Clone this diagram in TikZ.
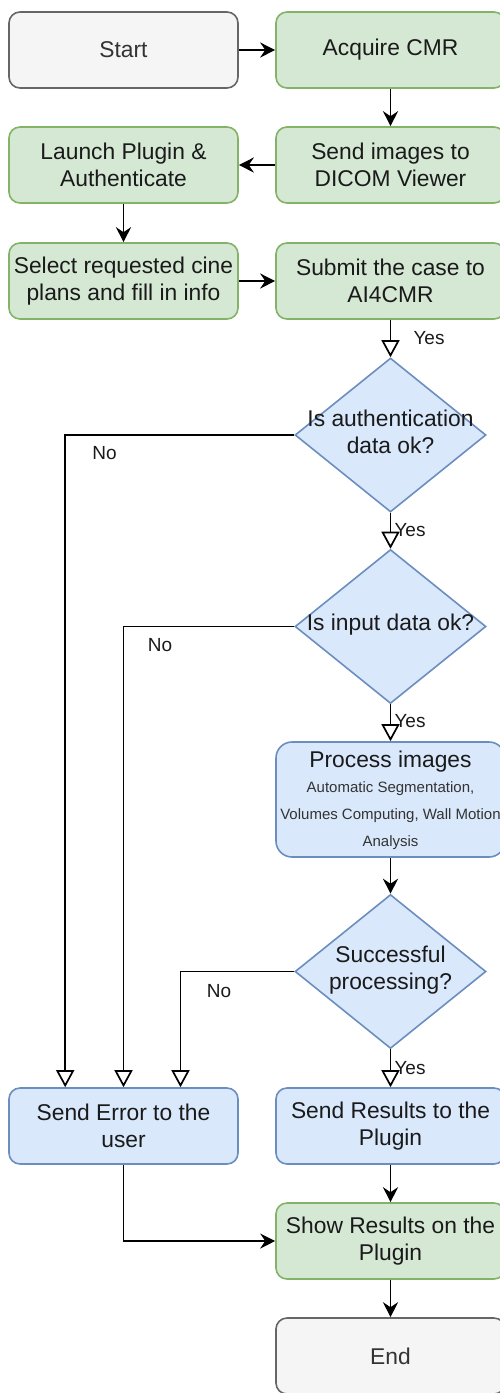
\documentclass[tikz,border=0pt]{standalone}
\usepackage{fontspec}
\setmainfont{Liberation Sans}
\usetikzlibrary{shapes.geometric,arrows.meta}
\definecolor{gfill}{HTML}{D5E8D4}
\definecolor{gdraw}{HTML}{82B366}
\definecolor{bfill}{HTML}{DAE8FC}
\definecolor{bdraw}{HTML}{6C8EBF}
\definecolor{sfill}{HTML}{F5F5F5}
\definecolor{sdraw}{HTML}{666666}
\definecolor{stext}{HTML}{333333}
\definecolor{mtext}{HTML}{1A1A1A}
\begin{document}
\begin{tikzpicture}[x=1pt,y=-1pt,
  base/.style={rectangle, rounded corners=11pt, minimum width=229pt, minimum height=76pt, inner sep=0pt, align=center, line width=1.6pt, text=mtext, font=\fontsize{22.8}{26.7}\selectfont},
  greenbox/.style={base, fill=gfill, draw=gdraw},
  bluebox/.style={base, fill=bfill, draw=bdraw},
  greybox/.style={base, fill=sfill, draw=sdraw, text=stext},
  decision/.style={diamond, fill=bfill, draw=bdraw, line width=1.6pt, minimum width=191pt, minimum height=154pt, inner sep=0pt},
  dtext/.style={align=center, text=mtext, font=\fontsize{22.8}{26.7}\selectfont, inner sep=0pt},
  subtext/.style={align=center, text=stext, font=\fontsize{15}{27}\selectfont, inner sep=0pt},
  lbl/.style={text=mtext, font=\fontsize{19}{22}\selectfont, inner sep=0pt},
  flow/.style={line width=1.7pt, -{Stealth[length=15pt,width=15pt,inset=5pt]}},
  branch/.style={line width=1.7pt, -{Triangle[length=17pt,width=18pt,fill=white]}},
]
\useasboundingbox[fill=white] (0,0) rectangle (499,1393);

% row 1
\node[greybox]  (start)  at (123.5,50)  {Start};
\node[greenbox] (acq)    at (390.5,50)  {Acquire CMR};
% row 2
\node[greenbox] (launch) at (123.5,165) {Launch Plugin \&\\Authenticate};
\node[greenbox] (send)   at (390.5,165) {Send images to\\DICOM Viewer};
% row 3
\node[greenbox] (select) at (123.5,281) {Select requested cine\\plans and fill in info};
\node[greenbox] (submit) at (390.5,281) {Submit the case to\\AI4CMR};

% decisions
\node[decision] (d1) at (390.5,435) {};
\node[dtext] (d1t) at (390.5,432) {Is authentication\\data ok?};
\node[decision] (d2) at (390.5,626.5) {};
\node[dtext] (d2t) at (390.5,625) {Is input data ok?};

% process
\node[bluebox, rounded corners=16pt, minimum height=115pt] (proc) at (390.5,799.5) {};
\node[dtext] (proct) at (390.5,762) {Process images};
\node[subtext] (procs) at (390.5,816) {Automatic Segmentation,\\Volumes Computing, Wall Motion\\Analysis};

\node[decision] (d3) at (390.5,971.5) {};
\node[dtext] (d3t) at (390.5,970) {Successful\\processing?};

% bottom
\node[bluebox]  (err)  at (123.5,1126) {Send Error to the\\user};
\node[bluebox]  (res)  at (390.5,1126) {Send Results to the\\Plugin};
\node[greenbox] (show) at (390.5,1241) {Show Results on the\\Plugin};
\node[greybox]  (stop) at (390.5,1356) {End};

% connectors
\draw[flow] (start.east) -- (acq.west);
\draw[flow] (acq.south) -- (send.north);
\draw[flow] (send.west) -- (launch.east);
\draw[flow] (launch.south) -- (select.north);
\draw[flow] (select.east) -- (submit.west);
\draw[branch] (submit.south) -- (d1.north);
\draw[branch] (d1.south) -- (d2.north);
\draw[branch] (d2.south) -- (proc.north);
\draw[flow] (proc.south) -- (d3.north);
\draw[branch] (d3.south) -- (res.north);
\draw[branch] (d1.west) -| ([xshift=57pt]err.north west);
\draw[branch] (d2.west) -| (err.north);
\draw[branch] (d3.west) -| ([xshift=57pt]err.north);
\draw[flow] (res.south) -- (show.north);
\draw[flow] (err.south) |- (show.west);
\draw[flow] (show.south) -- (stop.north);

% labels
\node[lbl] (y1) at (429,338) {Yes};
\node[lbl] (y2) at (410,530) {Yes};
\node[lbl] (y3) at (410,721) {Yes};
\node[lbl] (y4) at (410,1068) {Yes};
\node[lbl] (n1) at (104.5,453) {No};
\node[lbl] (n2) at (160,645) {No};
\node[lbl] (n3) at (219,991) {No};
\end{tikzpicture}
\end{document}
